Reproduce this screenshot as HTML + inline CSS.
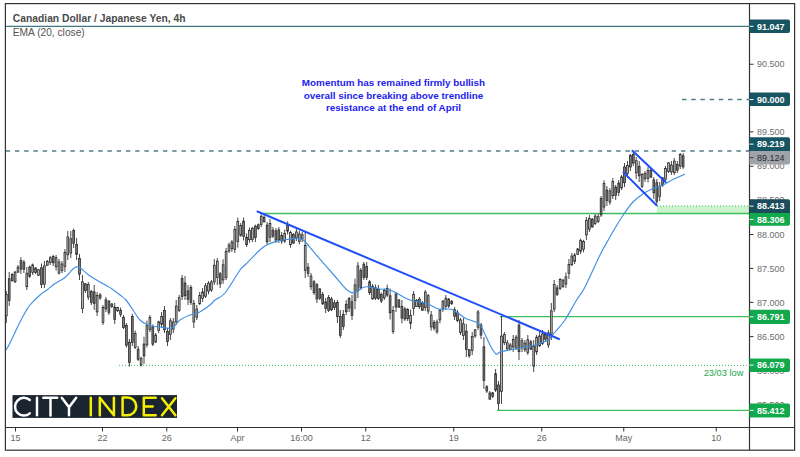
<!DOCTYPE html>
<html><head><meta charset="utf-8">
<style>
html,body{margin:0;padding:0;background:#fff;}
body{width:800px;height:457px;overflow:hidden;position:relative;font-family:"Liberation Sans",sans-serif;}
svg{position:absolute;left:0;top:0;}
text{font-family:"Liberation Sans",sans-serif;}
</style></head><body>
<svg width="800" height="457" viewBox="0 0 800 457">
<!-- horizontal levels -->
<line x1="5.5" y1="26.3" x2="749.5" y2="26.3" stroke="#3f7782" stroke-width="1.2"/>
<line x1="682" y1="99.5" x2="749.5" y2="99.5" stroke="#4f7f86" stroke-width="1.6" stroke-dasharray="4.5 4.7"/>
<line x1="5.7" y1="151" x2="749.5" y2="151" stroke="#4f7f86" stroke-width="1.7" stroke-dasharray="4.4 4.85"/>
<rect x="657" y="206" width="92.5" height="7.5" fill="#cdf5cd"/>
<line x1="657" y1="206" x2="749.5" y2="206" stroke="#3cbf5c" stroke-width="1" stroke-dasharray="1 2"/>
<line x1="263" y1="213.5" x2="749.5" y2="213.5" stroke="#3cbf5c" stroke-width="1.3"/>
<line x1="500" y1="316.7" x2="749.5" y2="316.7" stroke="#3cbf5c" stroke-width="1.3"/>
<line x1="119" y1="365.4" x2="749.5" y2="365.4" stroke="#3cbf5c" stroke-width="1" stroke-dasharray="1 2"/>
<line x1="497" y1="410.4" x2="749.5" y2="410.4" stroke="#3cbf5c" stroke-width="1.3"/>
<!-- candles -->
<path d="M6.3 291.0V323.0M9.2 272.0V306.0M12.2 273.0V281.5M15.1 271.0V283.0M18.0 265.0V273.0M20.9 257.0V274.0M23.9 260.0V273.0M26.8 267.0V290.0M29.7 265.7V278.0M32.7 263.5V275.0M35.6 267.0V274.0M38.5 269.0V276.0M41.5 263.5V288.0M44.4 261.0V288.0M47.3 260.0V266.0M50.2 256.0V265.0M53.2 255.0V266.0M56.1 255.0V270.6M59.0 259.0V274.5M62.0 261.0V273.0M64.9 249.0V272.0M67.8 231.0V260.0M70.8 231.0V258.0M73.7 228.6V248.0M76.6 238.0V260.0M79.5 254.0V280.0M82.5 275.0V313.0M85.4 283.0V293.0M88.3 282.0V300.0M91.3 290.0V305.0M94.2 285.0V310.0M97.1 292.0V316.0M100.1 293.0V300.0M103.0 305.0V325.0M105.9 297.0V312.0M108.9 300.0V315.0M111.8 303.0V308.0M114.7 303.0V324.0M117.6 307.0V312.0M120.6 307.6V317.0M123.5 315.0V329.0M126.4 323.0V347.5M129.4 339.0V366.6M132.3 313.8V346.0M135.2 330.6V349.0M138.2 346.0V361.0M141.1 356.7V366.6M144.0 336.8V364.0M146.9 320.7V347.5M149.9 315.0V332.0M152.8 324.5V346.0M155.7 333.0V343.0M158.7 320.7V333.0M161.6 312.0V328.0M164.5 306.0V333.0M167.5 328.0V346.0M170.4 318.0V340.0M173.3 318.0V333.0M176.2 300.0V325.0M179.2 295.0V312.0M182.1 275.0V300.0M185.0 276.0V300.0M188.0 285.0V305.0M190.9 285.0V305.0M193.8 300.0V328.0M196.8 305.0V320.0M199.7 292.0V305.0M202.6 288.0V302.0M205.5 283.0V298.0M208.5 281.1V294.3M211.4 280.0V292.0M214.3 259.0V285.0M217.3 258.0V285.0M220.2 272.0V288.0M223.1 259.3V283.8M226.1 248.0V280.0M229.0 242.7V253.0M231.9 240.0V252.0M234.8 226.0V253.0M237.8 217.6V247.7M240.7 223.0V236.7M243.6 217.6V240.6M246.6 233.4V247.0M249.5 227.4V242.7M252.4 227.0V242.0M255.4 224.7V242.0M258.3 223.6V230.0M261.2 214.3V227.0M264.1 215.4V222.5M267.1 222.0V245.0M270.0 219.0V242.0M272.9 227.0V238.0M275.9 228.0V243.0M278.8 227.0V243.0M281.7 232.0V244.0M284.7 229.6V243.0M287.6 221.4V234.5M290.5 230.7V247.7M293.4 233.0V244.0M296.4 229.0V241.0M299.3 230.7V244.4M302.2 232.0V242.0M305.2 232.0V278.0M308.1 263.0V277.0M311.0 273.0V290.0M314.0 280.0V295.0M316.9 283.0V303.0M319.8 288.0V300.0M322.7 292.0V305.0M325.7 298.0V313.0M328.6 295.0V312.0M331.5 296.9V311.2M334.5 300.0V310.0M337.4 300.0V323.0M340.3 310.0V338.0M343.3 310.0V330.0M346.2 300.0V315.0M349.1 297.0V312.0M352.0 295.0V320.0M355.0 278.7V309.2M357.9 262.0V298.0M360.8 268.0V290.0M363.8 262.0V280.0M366.7 262.0V280.0M369.6 280.0V295.0M372.6 284.0V300.0M375.5 284.6V300.0M378.4 285.0V300.0M381.3 292.5V303.0M384.3 288.5V300.0M387.2 284.6V297.0M390.1 288.5V319.5M393.1 306.0V334.0M396.0 292.0V312.0M398.9 299.0V308.0M401.9 300.0V323.4M404.8 307.0V321.0M407.7 308.0V321.0M410.6 309.6V329.0M413.6 291.0V315.5M416.5 299.0V307.0M419.4 297.0V309.0M422.4 301.0V311.0M425.3 290.0V311.0M428.2 294.0V314.0M431.2 311.0V330.6M434.1 320.0V330.6M437.0 319.5V334.0M439.9 309.0V323.4M442.9 300.0V312.0M445.8 295.0V310.0M448.7 298.0V308.0M451.7 300.0V305.0M454.6 307.0V320.0M457.5 310.0V322.0M460.5 318.0V335.0M463.4 318.0V340.0M466.3 324.0V357.0M469.2 349.0V358.0M472.2 332.0V355.0M475.1 329.0V338.0M478.0 310.0V330.0M481.0 323.0V339.0M483.9 337.0V389.0M486.8 385.0V393.0M489.8 391.0V400.0M492.7 392.0V398.0M495.6 369.0V392.0M498.5 381.0V410.0M501.5 316.0V404.0M504.4 332.0V345.0M507.3 340.0V350.0M510.3 343.0V350.0M513.2 335.0V352.0M516.1 335.0V350.0M519.0 320.0V360.0M522.0 338.0V352.0M524.9 340.0V352.0M527.8 335.0V355.0M530.8 340.0V350.0M533.7 340.0V372.0M536.6 335.0V355.0M539.6 332.0V347.0M542.5 330.0V345.0M545.4 332.0V342.0M548.4 330.0V348.0M551.3 303.0V340.0M554.2 280.0V312.0M557.1 285.0V296.0M560.1 278.0V290.0M563.0 279.0V288.0M565.9 272.5V288.0M568.9 259.0V279.0M571.8 253.0V266.0M574.7 253.0V264.0M577.6 248.0V255.0M580.6 238.6V254.0M583.5 239.8V252.3M586.4 217.0V240.0M589.4 215.0V232.0M592.3 218.0V228.0M595.2 214.0V225.0M598.2 214.0V223.0M601.1 196.0V217.0M604.0 180.3V211.1M606.9 186.0V206.0M609.9 188.0V205.0M612.8 178.0V199.0M615.7 185.0V200.0M618.7 180.0V196.0M621.6 175.0V190.0M624.5 163.0V187.0M627.5 161.0V178.0M630.4 154.0V171.0M633.3 152.0V166.0M636.2 157.0V179.0M639.2 161.0V182.0M642.1 173.0V188.0M645.0 171.0V182.0M648.0 167.0V182.5M650.9 168.0V178.0M653.8 177.0V199.0M656.8 179.0V204.0M659.7 182.0V201.0M662.6 177.0V187.0M665.5 166.0V181.0M668.5 162.0V173.0M671.4 161.0V175.0M674.3 158.0V175.0M677.3 161.0V173.0M680.2 153.0V169.0M683.1 153.0V169.0" stroke="#333" stroke-width="0.9" fill="none"/><g fill="#7c7c7c" stroke="#222" stroke-width="0.75"><rect x="8.3" y="278.7" width="1.8" height="21.8"/><rect x="11.3" y="274.6" width="1.8" height="6.1"/><rect x="20.1" y="260.7" width="1.8" height="8.4"/><rect x="23.0" y="262.2" width="1.8" height="7.0"/><rect x="28.8" y="267.0" width="1.8" height="9.2"/><rect x="34.7" y="268.1" width="1.8" height="4.5"/><rect x="40.6" y="267.8" width="1.8" height="16.6"/><rect x="52.3" y="256.6" width="1.8" height="6.2"/><rect x="72.8" y="230.4" width="1.8" height="13.0"/><rect x="75.7" y="244.6" width="1.8" height="9.7"/><rect x="78.6" y="258.3" width="1.8" height="15.8"/><rect x="84.5" y="283.9" width="1.8" height="6.6"/><rect x="90.4" y="291.5" width="1.8" height="10.9"/><rect x="93.3" y="291.9" width="1.8" height="11.6"/><rect x="99.2" y="294.9" width="1.8" height="3.0"/><rect x="105.0" y="299.8" width="1.8" height="9.1"/><rect x="108.0" y="301.2" width="1.8" height="11.2"/><rect x="110.9" y="304.0" width="1.8" height="2.5"/><rect x="113.8" y="307.1" width="1.8" height="12.4"/><rect x="119.7" y="310.2" width="1.8" height="4.4"/><rect x="122.6" y="317.3" width="1.8" height="10.2"/><rect x="125.5" y="325.3" width="1.8" height="19.9"/><rect x="128.5" y="342.2" width="1.8" height="20.1"/><rect x="131.4" y="316.4" width="1.8" height="26.0"/><rect x="137.2" y="349.2" width="1.8" height="10.1"/><rect x="143.1" y="344.1" width="1.8" height="11.8"/><rect x="151.9" y="327.0" width="1.8" height="17.2"/><rect x="163.6" y="310.3" width="1.8" height="19.5"/><rect x="166.6" y="331.5" width="1.8" height="9.9"/><rect x="181.2" y="278.5" width="1.8" height="18.0"/><rect x="184.1" y="283.0" width="1.8" height="12.7"/><rect x="187.1" y="290.9" width="1.8" height="8.3"/><rect x="190.0" y="287.6" width="1.8" height="14.8"/><rect x="219.3" y="273.8" width="1.8" height="10.0"/><rect x="242.7" y="221.2" width="1.8" height="15.2"/><rect x="245.7" y="237.2" width="1.8" height="7.5"/><rect x="254.5" y="226.1" width="1.8" height="11.5"/><rect x="257.4" y="224.8" width="1.8" height="3.7"/><rect x="263.2" y="217.2" width="1.8" height="4.6"/><rect x="266.2" y="225.1" width="1.8" height="16.7"/><rect x="272.0" y="230.1" width="1.8" height="6.0"/><rect x="275.0" y="230.9" width="1.8" height="9.2"/><rect x="277.9" y="229.9" width="1.8" height="10.0"/><rect x="280.8" y="235.4" width="1.8" height="5.7"/><rect x="286.7" y="225.2" width="1.8" height="5.9"/><rect x="292.5" y="234.5" width="1.8" height="8.5"/><rect x="307.2" y="267.2" width="1.8" height="6.1"/><rect x="313.1" y="281.8" width="1.8" height="10.9"/><rect x="316.0" y="284.7" width="1.8" height="14.3"/><rect x="318.9" y="289.0" width="1.8" height="9.2"/><rect x="321.8" y="294.5" width="1.8" height="9.3"/><rect x="324.8" y="301.8" width="1.8" height="6.8"/><rect x="327.7" y="297.4" width="1.8" height="13.1"/><rect x="330.6" y="298.9" width="1.8" height="10.8"/><rect x="333.6" y="302.8" width="1.8" height="4.6"/><rect x="336.5" y="302.6" width="1.8" height="13.9"/><rect x="339.4" y="316.6" width="1.8" height="18.7"/><rect x="342.4" y="314.6" width="1.8" height="11.9"/><rect x="345.3" y="304.3" width="1.8" height="7.4"/><rect x="348.2" y="298.5" width="1.8" height="9.5"/><rect x="351.1" y="301.7" width="1.8" height="13.8"/><rect x="359.9" y="270.3" width="1.8" height="17.2"/><rect x="362.9" y="264.2" width="1.8" height="13.1"/><rect x="365.8" y="266.4" width="1.8" height="11.0"/><rect x="368.7" y="281.8" width="1.8" height="10.9"/><rect x="374.6" y="287.7" width="1.8" height="10.4"/><rect x="377.5" y="289.3" width="1.8" height="9.2"/><rect x="380.4" y="294.3" width="1.8" height="6.7"/><rect x="386.3" y="288.3" width="1.8" height="6.8"/><rect x="389.2" y="295.8" width="1.8" height="16.9"/><rect x="395.1" y="293.9" width="1.8" height="13.2"/><rect x="398.0" y="300.0" width="1.8" height="7.1"/><rect x="401.0" y="306.4" width="1.8" height="11.7"/><rect x="403.9" y="308.9" width="1.8" height="10.1"/><rect x="406.8" y="309.5" width="1.8" height="9.2"/><rect x="418.5" y="299.2" width="1.8" height="7.5"/><rect x="421.5" y="302.9" width="1.8" height="7.3"/><rect x="433.2" y="322.4" width="1.8" height="5.7"/><rect x="447.8" y="299.1" width="1.8" height="6.9"/><rect x="450.8" y="301.3" width="1.8" height="2.4"/><rect x="453.7" y="309.7" width="1.8" height="6.7"/><rect x="456.6" y="312.8" width="1.8" height="7.6"/><rect x="465.4" y="331.2" width="1.8" height="18.2"/><rect x="468.3" y="349.7" width="1.8" height="6.0"/><rect x="480.1" y="325.0" width="1.8" height="10.1"/><rect x="483.0" y="346.8" width="1.8" height="33.7"/><rect x="485.9" y="386.8" width="1.8" height="4.2"/><rect x="488.9" y="393.0" width="1.8" height="6.1"/><rect x="491.8" y="392.8" width="1.8" height="3.7"/><rect x="494.7" y="373.7" width="1.8" height="16.4"/><rect x="497.6" y="385.0" width="1.8" height="18.4"/><rect x="518.1" y="325.1" width="1.8" height="26.6"/><rect x="529.9" y="341.9" width="1.8" height="7.3"/><rect x="544.5" y="334.4" width="1.8" height="4.8"/><rect x="556.2" y="287.9" width="1.8" height="6.5"/><rect x="591.4" y="219.2" width="1.8" height="7.6"/><rect x="600.2" y="198.6" width="1.8" height="16.3"/><rect x="606.0" y="190.1" width="1.8" height="10.4"/><rect x="614.8" y="187.1" width="1.8" height="8.5"/><rect x="617.8" y="183.1" width="1.8" height="9.5"/><rect x="623.6" y="167.0" width="1.8" height="15.7"/><rect x="629.5" y="155.5" width="1.8" height="11.5"/><rect x="632.4" y="154.6" width="1.8" height="8.5"/><rect x="638.3" y="166.6" width="1.8" height="9.2"/><rect x="650.0" y="170.0" width="1.8" height="7.1"/><rect x="652.9" y="179.9" width="1.8" height="12.9"/><rect x="655.9" y="182.7" width="1.8" height="18.6"/><rect x="661.7" y="178.0" width="1.8" height="7.1"/><rect x="676.4" y="164.5" width="1.8" height="5.7"/><rect x="682.2" y="155.8" width="1.8" height="11.1"/></g><g fill="#b4b4b4" stroke="#222" stroke-width="0.75"><rect x="5.4" y="294.6" width="1.8" height="21.2"/><rect x="14.2" y="272.1" width="1.8" height="9.7"/><rect x="17.1" y="267.1" width="1.8" height="5.0"/><rect x="25.9" y="273.2" width="1.8" height="13.5"/><rect x="31.8" y="264.9" width="1.8" height="7.7"/><rect x="37.6" y="269.7" width="1.8" height="5.5"/><rect x="43.5" y="265.9" width="1.8" height="18.2"/><rect x="46.4" y="261.4" width="1.8" height="3.8"/><rect x="49.4" y="257.8" width="1.8" height="4.8"/><rect x="55.2" y="257.7" width="1.8" height="9.1"/><rect x="58.1" y="261.9" width="1.8" height="11.2"/><rect x="61.1" y="264.0" width="1.8" height="6.5"/><rect x="64.0" y="252.4" width="1.8" height="14.2"/><rect x="66.9" y="237.0" width="1.8" height="17.7"/><rect x="69.9" y="238.8" width="1.8" height="14.3"/><rect x="81.6" y="281.9" width="1.8" height="26.7"/><rect x="87.4" y="284.4" width="1.8" height="12.6"/><rect x="96.2" y="295.4" width="1.8" height="16.5"/><rect x="102.1" y="307.4" width="1.8" height="15.0"/><rect x="116.7" y="307.5" width="1.8" height="3.2"/><rect x="134.3" y="333.5" width="1.8" height="13.9"/><rect x="140.2" y="358.2" width="1.8" height="6.8"/><rect x="146.0" y="325.7" width="1.8" height="19.2"/><rect x="149.0" y="317.6" width="1.8" height="12.0"/><rect x="154.8" y="335.0" width="1.8" height="6.9"/><rect x="157.8" y="321.8" width="1.8" height="8.8"/><rect x="160.7" y="316.3" width="1.8" height="8.0"/><rect x="169.5" y="320.8" width="1.8" height="13.5"/><rect x="172.4" y="322.0" width="1.8" height="7.1"/><rect x="175.3" y="306.1" width="1.8" height="15.7"/><rect x="178.3" y="297.7" width="1.8" height="12.8"/><rect x="192.9" y="303.5" width="1.8" height="18.4"/><rect x="195.9" y="309.0" width="1.8" height="8.2"/><rect x="198.8" y="295.3" width="1.8" height="8.4"/><rect x="201.7" y="291.9" width="1.8" height="6.5"/><rect x="204.6" y="285.8" width="1.8" height="10.4"/><rect x="207.6" y="283.2" width="1.8" height="7.8"/><rect x="210.5" y="282.0" width="1.8" height="8.0"/><rect x="213.4" y="265.2" width="1.8" height="16.7"/><rect x="216.4" y="261.1" width="1.8" height="16.4"/><rect x="222.2" y="264.8" width="1.8" height="15.1"/><rect x="225.2" y="251.5" width="1.8" height="25.9"/><rect x="228.1" y="245.0" width="1.8" height="6.0"/><rect x="231.0" y="242.1" width="1.8" height="6.6"/><rect x="233.9" y="229.4" width="1.8" height="19.9"/><rect x="236.9" y="221.6" width="1.8" height="19.8"/><rect x="239.8" y="225.4" width="1.8" height="9.9"/><rect x="248.6" y="230.3" width="1.8" height="9.4"/><rect x="251.5" y="228.3" width="1.8" height="11.1"/><rect x="260.3" y="216.2" width="1.8" height="8.3"/><rect x="269.1" y="223.4" width="1.8" height="13.9"/><rect x="283.8" y="233.4" width="1.8" height="7.7"/><rect x="289.6" y="232.5" width="1.8" height="12.2"/><rect x="295.5" y="232.0" width="1.8" height="5.6"/><rect x="298.4" y="234.0" width="1.8" height="7.4"/><rect x="301.3" y="234.7" width="1.8" height="4.3"/><rect x="304.3" y="245.3" width="1.8" height="25.0"/><rect x="310.1" y="276.0" width="1.8" height="10.7"/><rect x="354.1" y="284.9" width="1.8" height="15.6"/><rect x="357.0" y="265.9" width="1.8" height="25.0"/><rect x="371.7" y="286.2" width="1.8" height="12.5"/><rect x="383.4" y="290.4" width="1.8" height="7.4"/><rect x="392.2" y="310.4" width="1.8" height="21.0"/><rect x="409.7" y="315.3" width="1.8" height="8.0"/><rect x="412.7" y="294.3" width="1.8" height="14.1"/><rect x="415.6" y="300.3" width="1.8" height="6.1"/><rect x="424.4" y="292.1" width="1.8" height="15.4"/><rect x="427.3" y="295.7" width="1.8" height="15.4"/><rect x="430.3" y="315.1" width="1.8" height="11.7"/><rect x="436.1" y="321.9" width="1.8" height="9.9"/><rect x="439.0" y="310.6" width="1.8" height="9.3"/><rect x="442.0" y="301.1" width="1.8" height="7.8"/><rect x="444.9" y="298.3" width="1.8" height="8.1"/><rect x="459.6" y="319.9" width="1.8" height="12.4"/><rect x="462.5" y="323.8" width="1.8" height="11.7"/><rect x="471.3" y="336.4" width="1.8" height="14.1"/><rect x="474.2" y="329.9" width="1.8" height="6.0"/><rect x="477.1" y="311.9" width="1.8" height="15.3"/><rect x="500.6" y="336.1" width="1.8" height="55.2"/><rect x="503.5" y="334.4" width="1.8" height="8.3"/><rect x="506.4" y="342.8" width="1.8" height="6.0"/><rect x="509.4" y="345.0" width="1.8" height="4.4"/><rect x="512.3" y="339.4" width="1.8" height="7.6"/><rect x="515.2" y="337.1" width="1.8" height="11.0"/><rect x="521.1" y="340.7" width="1.8" height="7.2"/><rect x="524.0" y="343.1" width="1.8" height="6.6"/><rect x="526.9" y="339.7" width="1.8" height="12.7"/><rect x="532.8" y="346.0" width="1.8" height="20.2"/><rect x="535.7" y="337.2" width="1.8" height="14.7"/><rect x="538.7" y="336.0" width="1.8" height="9.8"/><rect x="541.6" y="334.0" width="1.8" height="9.4"/><rect x="547.5" y="332.9" width="1.8" height="12.1"/><rect x="550.4" y="310.8" width="1.8" height="23.3"/><rect x="553.3" y="284.5" width="1.8" height="24.6"/><rect x="559.2" y="279.6" width="1.8" height="8.7"/><rect x="562.1" y="280.1" width="1.8" height="6.4"/><rect x="565.0" y="276.8" width="1.8" height="7.2"/><rect x="568.0" y="264.6" width="1.8" height="8.6"/><rect x="570.9" y="256.1" width="1.8" height="8.7"/><rect x="573.8" y="255.0" width="1.8" height="6.3"/><rect x="576.8" y="249.0" width="1.8" height="5.4"/><rect x="579.7" y="240.3" width="1.8" height="10.9"/><rect x="582.6" y="241.6" width="1.8" height="7.6"/><rect x="585.5" y="220.2" width="1.8" height="14.7"/><rect x="588.5" y="218.4" width="1.8" height="10.7"/><rect x="594.3" y="216.1" width="1.8" height="7.5"/><rect x="597.3" y="216.7" width="1.8" height="4.7"/><rect x="603.1" y="183.4" width="1.8" height="23.6"/><rect x="609.0" y="190.9" width="1.8" height="11.2"/><rect x="611.9" y="181.4" width="1.8" height="14.3"/><rect x="620.7" y="176.9" width="1.8" height="11.0"/><rect x="626.6" y="165.5" width="1.8" height="7.8"/><rect x="635.4" y="160.7" width="1.8" height="12.1"/><rect x="641.2" y="174.6" width="1.8" height="11.7"/><rect x="644.1" y="173.5" width="1.8" height="5.3"/><rect x="647.1" y="170.4" width="1.8" height="8.2"/><rect x="658.8" y="186.2" width="1.8" height="10.4"/><rect x="664.6" y="168.5" width="1.8" height="10.6"/><rect x="667.6" y="162.9" width="1.8" height="8.5"/><rect x="670.5" y="165.1" width="1.8" height="6.8"/><rect x="673.4" y="161.1" width="1.8" height="11.6"/><rect x="679.3" y="154.4" width="1.8" height="11.6"/></g>
<!-- ema -->
<path d="M6.0 350.0C6.7 348.8 7.7 347.7 10.0 343.0C12.3 338.3 17.3 327.3 20.0 322.0C22.7 316.7 24.3 313.8 26.0 311.0C27.7 308.2 27.7 307.7 30.0 305.0C32.3 302.3 37.2 297.5 40.0 295.0C42.8 292.5 44.5 291.9 47.0 290.0C49.5 288.1 52.0 285.6 55.0 283.5C58.0 281.4 62.2 279.8 65.0 277.5C67.8 275.2 70.3 271.7 72.0 270.0C73.7 268.3 74.0 268.0 75.0 267.5C76.0 267.0 77.0 266.8 78.0 267.0C79.0 267.2 79.0 267.0 81.0 268.5C83.0 270.0 86.8 273.8 90.0 276.0C93.2 278.2 96.3 279.8 100.0 282.0C103.7 284.2 108.7 286.8 112.0 289.0C115.3 291.2 117.7 293.2 120.0 295.0C122.3 296.8 123.8 297.5 126.0 300.0C128.2 302.5 130.7 306.7 133.0 310.0C135.3 313.3 137.5 317.5 140.0 320.0C142.5 322.5 144.7 323.8 148.0 325.0C151.3 326.2 156.0 326.5 160.0 327.0C164.0 327.5 168.7 329.2 172.0 328.0C175.3 326.8 177.0 322.2 180.0 320.0C183.0 317.8 187.0 316.2 190.0 315.0C193.0 313.8 194.7 314.7 198.0 313.0C201.3 311.3 207.2 307.2 210.0 305.0C212.8 302.8 212.5 302.0 215.0 300.0C217.5 298.0 220.8 298.0 225.0 293.0C229.2 288.0 236.7 274.7 240.0 270.0C243.3 265.3 242.5 267.5 245.0 265.0C247.5 262.5 252.3 257.5 255.0 254.8C257.7 252.1 259.1 250.6 261.0 249.0C262.9 247.4 264.2 246.2 266.6 245.0C269.0 243.8 272.0 242.5 275.3 241.6C278.6 240.7 282.9 240.0 286.3 239.5C289.8 239.0 293.6 238.5 296.0 238.4C298.4 238.3 299.5 238.5 301.0 239.0C302.5 239.5 302.5 238.9 305.0 241.5C307.5 244.1 311.3 249.2 316.0 254.6C320.7 260.0 328.0 268.3 333.0 274.0C338.0 279.7 342.5 285.8 346.0 289.0C349.5 292.2 351.5 293.1 354.0 293.0C356.5 292.9 359.0 289.5 361.0 288.5C363.0 287.5 364.0 287.0 366.0 286.8C368.0 286.6 370.7 287.1 373.0 287.5C375.3 287.9 377.2 288.6 380.0 289.0C382.8 289.4 386.7 289.0 390.0 290.0C393.3 291.0 396.7 293.3 400.0 295.0C403.3 296.7 405.9 298.7 410.0 300.0C414.1 301.3 421.0 302.0 424.7 303.0C428.4 304.0 429.6 305.0 432.0 306.0C434.4 307.0 436.7 308.5 439.0 309.0C441.3 309.5 443.7 308.8 446.0 309.0C448.3 309.2 449.8 308.5 453.0 310.0C456.2 311.5 462.2 316.3 465.0 318.0C467.8 319.7 467.8 319.2 470.0 320.0C472.2 320.8 476.0 321.7 478.0 323.0C480.0 324.3 480.0 324.3 482.0 328.0C484.0 331.7 487.7 340.7 490.0 345.0C492.3 349.3 494.3 352.8 496.0 354.0C497.7 355.2 497.7 352.7 500.0 352.0C502.3 351.3 505.8 350.8 510.0 350.0C514.2 349.2 520.8 347.8 525.0 347.0C529.2 346.2 531.2 346.2 535.0 345.0C538.8 343.8 544.7 342.2 548.0 340.0C551.3 337.8 552.2 335.3 555.0 332.0C557.8 328.7 561.5 325.2 565.0 320.0C568.5 314.8 572.7 306.5 576.0 301.0C579.3 295.5 581.0 294.7 585.0 287.0C589.0 279.3 596.1 262.9 600.0 255.0C603.9 247.1 605.8 244.2 608.5 239.5C611.2 234.8 613.4 230.8 616.0 226.5C618.6 222.2 621.2 218.0 624.0 214.0C626.8 210.0 629.2 205.9 632.5 202.5C635.8 199.1 640.2 195.8 643.5 193.6C646.8 191.3 648.8 190.4 652.0 189.0C655.2 187.6 659.3 186.7 663.0 185.0C666.7 183.3 670.3 180.8 674.0 179.0C677.7 177.2 683.2 174.8 685.0 174.0" fill="none" stroke="#3f8fe4" stroke-width="1.15" stroke-linejoin="round"/>
<!-- trendlines -->
<g stroke="#1f4ffb" stroke-width="2.0" stroke-linecap="round">
<line x1="257.5" y1="211.5" x2="559" y2="339"/>
<line x1="632.5" y1="150.8" x2="665.5" y2="182"/>
<line x1="623.5" y1="172.4" x2="656.6" y2="205.2"/>
</g>
<!-- title -->
<text x="12.8" y="21.8" font-size="10.3" font-weight="bold" fill="#4a4a4a">Canadian Dollar / Japanese Yen, 4h</text>
<text x="12.8" y="35.8" font-size="10.2" fill="#555">EMA (20, close)</text>
<!-- annotation -->
<g font-size="9.9" font-weight="bold" fill="#2222ee" text-anchor="middle">
<text x="393.5" y="86">Momentum has remained firmly bullish</text>
<text x="393.5" y="98.5">overall since breaking above trendline</text>
<text x="393.5" y="111">resistance at the end of April</text>
</g>
<text x="743.5" y="376" font-size="9.3" fill="#22a84e" text-anchor="end">23/03 low</text>
<!-- logo -->
<rect x="12.5" y="395.1" width="164.5" height="22.8" fill="#1b2530"/>
<g fill="none" stroke-width="2.5" stroke-linecap="round" stroke-linejoin="round">
<g stroke="#ffffff">
<path d="M29.8 400 A8.9 8.9 0 1 0 29.8 413.4"/>
<path d="M37 397.8V415.3"/>
<path d="M43.3 397.8H57.2M50.5 397.8V415.5"/>
<path d="M61.8 397.8L69 407.3L76.2 397.8M69 407.3V415.3"/>
</g>
<g stroke="#f5f000">
<path d="M90.8 397.8V415.3"/>
<path d="M99.8 415.3V397.8L113.9 415.3V397.8"/>
<path d="M122.6 397.6H127.5A8.8 8.8 0 0 1 127.5 415.2H122.6Z"/>
<path d="M155.7 397.8H143.8V415.2H155.7M143.8 406.6H152.7"/>
<path d="M162 398.2L175.4 415.2M175.4 398.2L162 415.2"/>
</g>
</g>
<!-- frame & axes -->
<rect x="5.4" y="3.6" width="789.2" height="446.6" fill="none" stroke="#333" stroke-width="1.2"/>
<line x1="749.5" y1="3.6" x2="749.5" y2="450.2" stroke="#333" stroke-width="1.2"/>
<line x1="5.4" y1="427.5" x2="794.6" y2="427.5" stroke="#333" stroke-width="1.2"/>
<!-- x ticks -->
<g stroke="#333" stroke-width="1">
<path d="M15.5 428V431.5M102.5 428V431.5M166.75 428V431.5M237.5 428V431.5M301.5 428V431.5M365.75 428V431.5M453.75 428V431.5M541.75 428V431.5M623.75 428V431.5M716.25 428V431.5"/>
</g>
<g font-size="9" fill="#666" text-anchor="middle">
<text x="15.5" y="441.3">15</text>
<text x="102.5" y="441.3">22</text>
<text x="166.75" y="441.3">26</text>
<text x="237.5" y="441.3">Apr</text>
<text x="301.5" y="441.3">16:00</text>
<text x="365.75" y="441.3">12</text>
<text x="453.75" y="441.3">19</text>
<text x="541.75" y="441.3">26</text>
<text x="623.75" y="441.3">May</text>
<text x="716.25" y="441.3">10</text>
</g>
<!-- y ticks & labels -->
<g stroke="#333" stroke-width="1">
<path d="M749.5 64.25H753.5M749.5 131.8H753.5M749.5 166.25H753.5M749.5 200.25H753.5M749.5 234.5H753.5M749.5 268.4H753.5M749.5 302.4H753.5M749.5 336.6H753.5M749.5 370.5H753.5M749.5 404.5H753.5"/>
</g>
<g font-size="9" fill="#6e6e6e">
<text x="757" y="67.4">90.500</text>
<text x="757" y="134.9">89.500</text>
<text x="757" y="169.4">89.000</text>
<text x="757" y="203.4">88.500</text>
<text x="757" y="237.6">88.000</text>
<text x="757" y="271.5">87.500</text>
<text x="757" y="305.5">87.000</text>
<text x="757" y="339.7">86.500</text>
<text x="757" y="373.6">86.000</text>
<text x="757" y="407.6">85.500</text>
</g>
<!-- label boxes -->
<g>
<path d="M749.5 19.5H788A2 2 0 0 1 790 21.5V31A2 2 0 0 1 788 33H749.5Z" fill="#185563"/>
<path d="M749.5 92.4H788A2 2 0 0 1 790 94.4V104A2 2 0 0 1 788 106H749.5Z" fill="#185563"/>
<path d="M749.5 137.3H788A2 2 0 0 1 790 139.3V150.9H749.5Z" fill="#185563"/>
<path d="M749.5 150.9H790V162.6A2 2 0 0 1 788 164.6H749.5Z" fill="#9fa3ab"/>
<path d="M749.5 199.2H788A2 2 0 0 1 790 201.2V213H749.5Z" fill="#1a4c5b"/>
<path d="M749.5 213H790V223.7A2 2 0 0 1 788 225.7H749.5Z" fill="#12a84c"/>
<path d="M749.5 309.8H788A2 2 0 0 1 790 311.8V321.9A2 2 0 0 1 788 323.9H749.5Z" fill="#12a84c"/>
<path d="M749.5 358.4H788A2 2 0 0 1 790 360.4V369.9A2 2 0 0 1 788 371.9H749.5Z" fill="#12a84c"/>
<path d="M749.5 403.4H788A2 2 0 0 1 790 405.4V415.4A2 2 0 0 1 788 417.4H749.5Z" fill="#12a84c"/>
</g>
<g stroke="#fff" stroke-width="1">
<path d="M749.5 26.3H753.5M749.5 99.5H753.5M749.5 144.1H753.5M749.5 206.1H753.5M749.5 219.4H753.5M749.5 316.8H753.5M749.5 365.1H753.5M749.5 410.4H753.5"/>
</g>
<path d="M749.5 157.7H753.5" stroke="#333" stroke-width="1"/>
<g font-size="9" font-weight="bold" fill="#fff">
<text x="757" y="29.5">91.047</text>
<text x="757" y="102.7">90.000</text>
<text x="757" y="147.3">89.219</text>
<text x="757" y="209.3">88.413</text>
<text x="757" y="222.6">88.306</text>
<text x="757" y="320">86.791</text>
<text x="757" y="368.3">86.079</text>
<text x="757" y="413.6">85.412</text>
</g>
<text x="757" y="160.9" font-size="9" fill="#2a2a2a">89.124</text>
</svg>
</body></html>
